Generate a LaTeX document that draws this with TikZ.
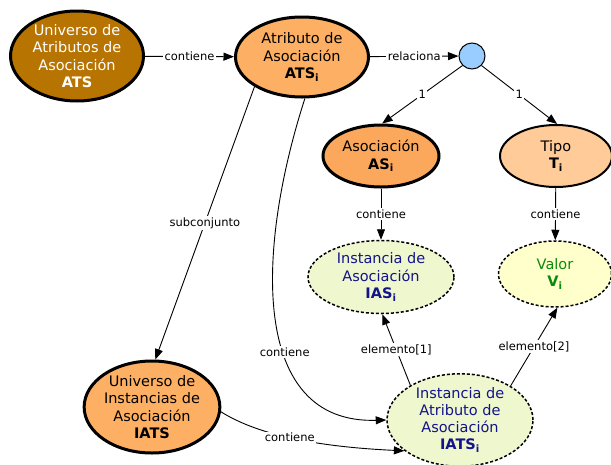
\documentclass[tikz,border=0pt]{standalone}
\usepackage{fontspec}
\setmainfont{DejaVu Sans}
\usetikzlibrary{arrows.meta,shapes.geometric}
\definecolor{brownfill}{HTML}{B87400}
\definecolor{orangefill}{HTML}{FDB063}
\definecolor{orangedeep}{HTML}{FBA85C}
\definecolor{peachfill}{HTML}{FFCB99}
\definecolor{greenfill}{HTML}{EEF7CE}
\definecolor{yellowfill}{HTML}{FFFFCC}
\definecolor{bluefill}{HTML}{99CCFF}
\definecolor{navytext}{HTML}{14148A}
\definecolor{greentext}{HTML}{0A8A0A}
\begin{document}
\begin{tikzpicture}[x=1pt,y=-1pt,
  concept/.style={ellipse, draw=black, align=center, inner sep=0pt,
    font=\fontsize{14.5}{17.2}\selectfont},
  solidbold/.style={concept, line width=3pt},
  instance/.style={concept, line width=1.5pt, dash pattern=on 3pt off 2pt},
  lbl/.style={fill=white, inner sep=1.5pt, font=\fontsize{11.5}{13}\selectfont},
  arr/.style={line width=0.9pt, -{Triangle[length=10.5pt,width=8pt]}}]
\useasboundingbox (0,0) rectangle (611,464);

% concepts
\node[solidbold, fill=brownfill, text=white, minimum width=133pt, minimum height=90pt]
  (ats) at (77,56) {Universo de\\Atributos de\\Asociación\\\textbf{ATS}};
\node[solidbold, fill=orangefill, minimum width=133pt, minimum height=80pt]
  (atsi) at (302,57) {Atributo de\\Asociación\\\textbf{ATS\textsubscript{i}}};
\node[circle, draw=black, line width=1pt, fill=bluefill, minimum size=26pt, inner sep=0pt]
  (rel) at (472,56) {};
\node[solidbold, fill=orangedeep, minimum width=116pt, minimum height=62pt]
  (as) at (381,156) {Asociación\\\textbf{AS\textsubscript{i}}};
\node[concept, line width=2pt, fill=peachfill, minimum width=112pt, minimum height=62pt]
  (tipo) at (556,156) {Tipo\\\textbf{T\textsubscript{i}}};
\node[instance, fill=greenfill, text=navytext, minimum width=146pt, minimum height=73pt]
  (ias) at (381,277) {Instancia de\\Asociación\\\textbf{IAS\textsubscript{i}}};
\node[instance, fill=yellowfill, text=greentext, minimum width=113pt, minimum height=66pt]
  (val) at (555,274) {Valor\\\textbf{V\textsubscript{i}}};
\node[instance, fill=greenfill, text=navytext, minimum width=146pt, minimum height=90pt]
  (iatsi) at (460,420) {Instancia de\\Atributo de\\Asociación\\\textbf{IATS\textsubscript{i}}};
\node[solidbold, fill=orangefill, minimum width=133pt, minimum height=92pt]
  (iats) at (152,407) {Universo de\\Instancias de\\Asociación\\\textbf{IATS}};

% connectors
\draw[arr] (ats) -- node[lbl]{contiene} (atsi);
\draw[arr] (atsi) -- node[lbl]{relaciona} (rel);
\draw[arr] (rel.225) -- node[lbl]{1} (as.88);
\draw[arr] (rel.-45) -- node[lbl]{1} (tipo.88);
\draw[arr] (as) -- node[lbl]{contiene} (ias);
\draw[arr] (tipo) -- node[lbl]{contiene} (val);
\draw[arr] (atsi.212) -- node[lbl]{subconjunto} (iats.86);
\draw[arr] (atsi.274) .. controls (256,250) and (250,424) .. node[lbl,pos=0.6]{contiene} (iatsi.west);
\draw[arr] (iats.-4) .. controls (250,430) and (300,446) .. node[lbl,pos=0.53]{contiene} (iatsi.209);
\draw[arr] (iatsi.145) -- node[lbl]{elemento[1]} (ias.-88);
\draw[arr] (iatsi.34) -- node[lbl]{elemento[2]} (val.-86);
\end{tikzpicture}
\end{document}
